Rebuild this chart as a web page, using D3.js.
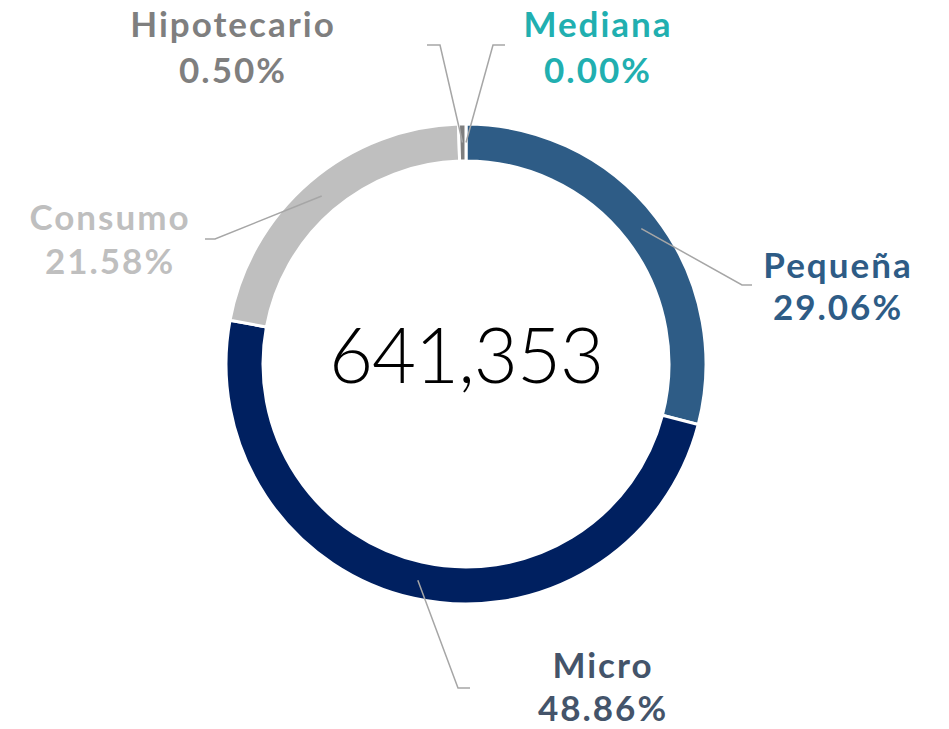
<!DOCTYPE html>
<html>
<head>
<meta charset="utf-8">
<script src="https://cdn.jsdelivr.net/npm/d3@7"></script>
<style>
  html, body { margin: 0; padding: 0; background: #fff; }
  svg { display: block; }
  .lbl { font-family: "Century Gothic", Lato, "DejaVu Sans", sans-serif; font-weight: 700; letter-spacing: 2px; }
  .total { font-family: "Century Gothic", Lato, "DejaVu Sans", sans-serif; font-weight: 300; letter-spacing: -1px; }
</style>
</head>
<body>
<svg id="chart" width="949" height="729"></svg>
<script>
// Portfolio share by credit type (clockwise from 12 o'clock)
const categories = ["Mediana", "Pequeña", "Micro", "Consumo", "Hipotecario"];
const shares = [0.00, 29.06, 48.86, 21.58, 0.50];
const sliceColors = ["#21AFB0", "#2E5C86", "#002060", "#BFBFBF", "#7F7F7F"];
const labelColors = ["#21AFB0", "#2E5C86", "#44546A", "#BFBFBF", "#7F7F7F"];
const totalLabel = "641,353";

// Layout
const cx = 466, cy = 364;
const outerR = 240, innerR = 203;
// label block: text centre x, baselines of both lines, elbow x/y, tail x (short horizontal)
const labelLayout = {
  "Mediana":     { tx: 597, ty: 37,  ty2: 83,  ex: 493, ey: 45,  hx: 505 },
  "Pequeña":     { tx: 837, ty: 278, ty2: 320, ex: 742, ey: 285, hx: 752 },
  "Micro":       { tx: 602, ty: 678, ty2: 721, ex: 458, ey: 688, hx: 470 },
  "Consumo":     { tx: 109, ty: 230, ty2: 274, ex: 215, ey: 239, hx: 205 },
  "Hipotecario": { tx: 232, ty: 37,  ty2: 83,  ex: 440, ey: 45,  hx: 427 }
};

const svg = d3.select("#chart");
const g = svg.append("g").attr("transform", `translate(${cx},${cy})`);

const pie = d3.pie().sort(null).value(d => d.v).startAngle(0).endAngle(2 * Math.PI);
const data = categories.map((c, i) => ({ name: c, v: shares[i], color: sliceColors[i], lc: labelColors[i] }));
const arcs = pie(data);

const arc = d3.arc().innerRadius(innerR).outerRadius(outerR);
const midArc = d3.arc().innerRadius((innerR + outerR) / 2).outerRadius((innerR + outerR) / 2);

g.selectAll("path.slice")
  .data(arcs)
  .join("path")
  .attr("class", "slice")
  .attr("d", arc)
  .attr("fill", d => d.data.color)
  .attr("stroke", "#fff")
  .attr("stroke-width", d => d.data.v > 0 ? 3 : 0);

// leader lines
const leaders = svg.append("g");
arcs.forEach(a => {
  const L = labelLayout[a.data.name];
  const c = midArc.centroid(a);
  const p0 = [cx + c[0], cy + c[1]];
  leaders.append("polyline")
    .attr("points", [p0, [L.ex, L.ey], [L.hx, L.ey]].map(p => p.join(",")).join(" "))
    .attr("fill", "none")
    .attr("stroke", "#A6A6A6")
    .attr("stroke-width", 1.5);
});

// labels
const fmt = d3.format(".2f");
const labels = svg.append("g");
arcs.forEach(a => {
  const L = labelLayout[a.data.name];
  const t = labels.append("text")
    .attr("class", "lbl")
    .attr("text-anchor", "middle")
    .attr("fill", a.data.lc)
    .attr("font-size", 35);
  t.append("tspan").attr("x", L.tx + 1).attr("y", L.ty).text(a.data.name);
  t.append("tspan").attr("x", L.tx + 1).attr("y", L.ty2).text(fmt(a.data.v) + "%");
});

// total in the centre
svg.append("text")
  .attr("class", "total")
  .attr("x", cx)
  .attr("y", 383)
  .attr("text-anchor", "middle")
  .attr("font-size", 76)
  .attr("fill", "#000")
  .text(totalLabel);
</script>
</body>
</html>
